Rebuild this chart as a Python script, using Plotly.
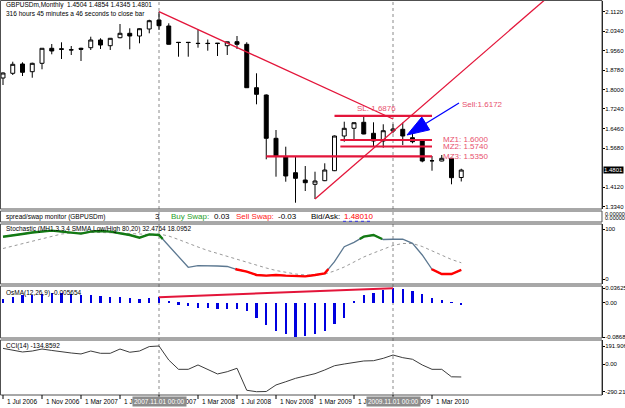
import plotly.graph_objects as go

W, H = 625, 408
RIGHT = 602          # px, right edge of the plotting area (price scale line)
X0_PX, BAR_PX = 3.0, 9.75   # px of first bar, px per bar

# ---------------- data ----------------
months = ["Jul 2006", "Aug 2006", "Sep 2006", "Oct 2006", "Nov 2006", "Dec 2006",
          "Jan 2007", "Feb 2007", "Mar 2007", "Apr 2007", "May 2007", "Jun 2007",
          "Jul 2007", "Aug 2007", "Sep 2007", "Oct 2007", "Nov 2007", "Dec 2007",
          "Jan 2008", "Feb 2008", "Mar 2008", "Apr 2008", "May 2008", "Jun 2008",
          "Jul 2008", "Aug 2008", "Sep 2008", "Oct 2008", "Nov 2008", "Dec 2008",
          "Jan 2009", "Feb 2009", "Mar 2009", "Apr 2009", "May 2009", "Jun 2009",
          "Jul 2009", "Aug 2009", "Sep 2009", "Oct 2009", "Nov 2009", "Dec 2009",
          "Jan 2010", "Feb 2010", "Mar 2010", "Apr 2010", "May 2010", "Jun 2010"]
bar_index = list(range(len(months)))

opens = [1.8474, 1.8662, 1.9033, 1.8726, 1.9061, 1.9660, 1.9640, 1.9592, 1.9660, 1.9684,
         1.9991, 1.9763, 2.0082, 2.0258, 2.0150, 2.0430, 2.0789, 2.0549, 1.9899, 1.9899,
         1.9859, 1.9859, 1.9850, 1.9763, 1.9923, 1.9819, 1.8087, 1.7796, 1.6068, 1.5334,
         1.4695, 1.4404, 1.4232, 1.4376, 1.4775, 1.6160, 1.6467, 1.6707, 1.6268, 1.5960,
         1.6359, 1.6427, 1.6092, 1.5960, 1.5174, 1.5162, 1.5270, 1.4504]
highs = [1.8700, 1.9125, 1.9101, 1.9085, 1.9660, 1.9831, 1.9899, 1.9751, 1.9684, 2.0122,
         2.0059, 2.0070, 2.0629, 2.0458, 2.0458, 2.0800, 2.1120, 2.0657, 1.9905, 1.9910,
         2.0418, 2.0010, 1.9870, 1.9923, 2.0150, 1.9900, 1.8662, 1.7820, 1.6399, 1.5733,
         1.5334, 1.4962, 1.4735, 1.5070, 1.6180, 1.6731, 1.6700, 1.6970, 1.6707, 1.6627,
         1.6627, 1.6691, 1.6399, 1.6028, 1.5362, 1.5402, 1.5280, 1.4854]
lows = [1.8195, 1.8594, 1.8554, 1.8486, 1.8822, 1.9420, 1.9233, 1.9392, 1.9153, 1.9592,
        1.9632, 1.9592, 2.0059, 1.9620, 1.9859, 2.0258, 2.0390, 1.9810, 1.9324, 1.9324,
        1.9684, 1.9564, 1.9352, 1.9392, 1.9632, 1.8087, 1.7425, 1.5230, 1.4536, 1.4336,
        1.3498, 1.3965, 1.3646, 1.4360, 1.4760, 1.5932, 1.5960, 1.6230, 1.5733, 1.5693,
        1.6268, 1.5801, 1.5869, 1.5110, 1.4775, 1.5150, 1.4232, 1.4345]
closes = [1.8674, 1.9021, 1.8702, 1.9061, 1.9660, 1.9552, 1.9620, 1.9600, 1.9620, 1.9991,
          1.9791, 2.0059, 2.0258, 2.0150, 2.0442, 2.0761, 2.0561, 1.9819, 1.9890, 1.9890,
          1.9850, 1.9850, 1.9860, 1.9920, 1.9819, 1.8087, 1.7824, 1.6068, 1.5362, 1.4564,
          1.4472, 1.4296, 1.4364, 1.4803, 1.6160, 1.6467, 1.6691, 1.6240, 1.5960, 1.6371,
          1.6439, 1.6160, 1.5932, 1.5162, 1.5170, 1.5270, 1.4496, 1.4801]

stoch_main = [84.6, 88, 90, 93, 94.7, 96.7, 94.7, 92.7, 90.7, 94.7, 96, 94.7, 91.3, 88,
              82.7, 89.3, 88, 66.7, 44.7, 23.4, 26.7, 26.7, 26, 25, 19, 14.7, 8, 6.7, 8,
              6.7, 5.3, 5.3, 8, 11.3, 34.7, 64.7, 73.3, 84.7, 88, 79, 79.5, 79.5, 71.3, 48,
              19.5, 10, 10, 18.0952]
stoch_signal = [61, 66, 71, 76, 80, 85, 90, 92, 93, 93, 93, 93, 92, 91, 90, 89, 90, 86,
                79, 71, 64, 57, 51, 45, 39, 33, 27, 22, 17, 13, 10, 8, 8, 10, 16, 24, 34,
                44, 52, 60, 67, 71, 71, 65, 56, 47, 39, 32.4764]
stoch_levels = [80, 20]

osma = [0.009, 0.015, 0.018, 0.019, 0.021, 0.025, 0.023, 0.021, 0.019, 0.018, 0.017,
        0.015, 0.013, 0.011, 0.010, 0.012, 0.014, 0.003, -0.005, -0.009, -0.013, -0.014,
        -0.016, -0.017, -0.017, -0.022, -0.040, -0.057, -0.071, -0.080, -0.08687, -0.083,
        -0.080, -0.071, -0.055, -0.040, 0.003, 0.018, 0.025, 0.033, 0.036251, 0.035,
        0.030, 0.021, 0.012, 0.006, 0.001, -0.005654]

cci = [167, 145, 129, 139, 160, 145, 129, 118, 108, 139, 115, 115, 160, 126, 139, 186,
       191.9061, 44, -54, -54, -8, -54, -103, -79, -43, -275, -290.219, -288, -219, -185,
       -149, -124, -100, -61, -16, 2, 20, 34, 37, 62, 97, 69, 52, -8, -54, -54, -133,
       -134.8592]

price_ticks = [2.1120, 2.0340, 1.9560, 1.8780, 1.8000, 1.7240, 1.6460, 1.5680, 1.4120, 1.3340]
last_price = 1.4801

# drawn objects (user lines / levels)
trend_down = {"x": [16, 40], "y": [2.1120, 1.6838]}
trend_up = {"x": [32, 62], "y": [1.3646, 2.3762]}
levels = [  # name, price, first bar, last bar
    ("SL: 1.6876", 1.6960, 34, 44),
    ("MZ1: 1.6000", 1.6000, 34.6, 44),
    ("MZ2: 1.5740", 1.5740, 34.6, 44),
    ("MZ3: 1.5350", 1.5350, 27, 44),
]
sell_label = "Sell:1.6172"
osma_line = {"x": [16, 40], "y": [0.0134, 0.036251]}
marker_bars = [16, 40]
marker_texts = ["2007.11.01 00:00", "2009.11.01 00:00"]
date_tick_bars = list(range(0, 48, 4))
date_tick_labels = ["1 " + months[i] for i in date_tick_bars]

# ---------------- helpers ----------------
def yp(px):
    return 1 - px / H

def xp(px):
    return px / W

P_REF_PX, P_REF, P_SCALE = 11.7, 2.1120, 250.6   # price scale (px per unit)

def price_from_px(py):
    return P_REF - (py - P_REF_PX) / P_SCALE

def bar_from_px(px):
    return (px - X0_PX) / BAR_PX

FONT = "Liberation Sans"
RED = "#E3153A"
LABEL_RED = "#E8506E"

fig = go.Figure()

# --- main candles
fig.add_trace(go.Candlestick(
    x=bar_index, open=opens, high=highs, low=lows, close=closes,
    increasing=dict(line=dict(color="black", width=1), fillcolor="white"),
    decreasing=dict(line=dict(color="black", width=1), fillcolor="black"),
    whiskerwidth=0, hoverinfo="skip", showlegend=False, xaxis="x", yaxis="y"))

for tl in (trend_down, trend_up):
    fig.add_trace(go.Scatter(x=tl["x"], y=tl["y"], mode="lines",
                             line=dict(color=RED, width=1.3), hoverinfo="skip",
                             showlegend=False, xaxis="x", yaxis="y"))
for name, price, b0, b1 in levels:
    fig.add_trace(go.Scatter(x=[b0, b1], y=[price, price], mode="lines",
                             line=dict(color=RED, width=2.2), hoverinfo="skip",
                             showlegend=False, xaxis="x", yaxis="y"))

# --- stochastic
def zone_segments(xs, ys, level, above):
    ox, oy = [], []
    def inside(v):
        return v > level if above else v < level
    for i in range(len(xs) - 1):
        x0, y0, x1, y1 = xs[i], ys[i], xs[i + 1], ys[i + 1]
        a, b = inside(y0), inside(y1)
        if not a and not b:
            continue
        if a and b:
            seg = [(x0, y0), (x1, y1)]
        else:
            t = (level - y0) / (y1 - y0)
            xc = x0 + t * (x1 - x0)
            seg = [(x0, y0), (xc, level)] if a else [(xc, level), (x1, y1)]
        if ox and ox[-1] is not None and ox[-1] == seg[0][0] and oy[-1] == seg[0][1]:
            ox.append(seg[1][0]); oy.append(seg[1][1])
        else:
            if ox:
                ox.append(None); oy.append(None)
            ox += [seg[0][0], seg[1][0]]; oy += [seg[0][1], seg[1][1]]
    return ox, oy

fig.add_trace(go.Scatter(x=bar_index, y=stoch_signal, mode="lines",
                         line=dict(color="#9A9A9A", width=1, dash="dot"),
                         hoverinfo="skip", showlegend=False, xaxis="x", yaxis="y2"))
fig.add_trace(go.Scatter(x=bar_index, y=stoch_main, mode="lines",
                         line=dict(color="#5C7891", width=1.3),
                         hoverinfo="skip", showlegend=False, xaxis="x", yaxis="y2"))
gx, gy = zone_segments(bar_index, stoch_main, stoch_levels[0], True)
fig.add_trace(go.Scatter(x=gx, y=gy, mode="lines", line=dict(color="#137A13", width=2.4),
                         hoverinfo="skip", showlegend=False, xaxis="x", yaxis="y2"))
rx, ry = zone_segments(bar_index, stoch_main, stoch_levels[1], False)
fig.add_trace(go.Scatter(x=rx, y=ry, mode="lines", line=dict(color="#FF0000", width=2.4),
                         hoverinfo="skip", showlegend=False, xaxis="x", yaxis="y2"))

# --- OsMA
fig.add_trace(go.Bar(x=bar_index, y=osma, width=0.22, marker=dict(color="#0000E0", line=dict(width=0)),
                     hoverinfo="skip", showlegend=False, xaxis="x", yaxis="y3"))
fig.add_trace(go.Scatter(x=osma_line["x"], y=osma_line["y"], mode="lines",
                         line=dict(color=RED, width=2), hoverinfo="skip",
                         showlegend=False, xaxis="x", yaxis="y3"))

# --- CCI
fig.add_trace(go.Scatter(x=bar_index, y=cci, mode="lines", line=dict(color="#3C3C3C", width=1),
                         hoverinfo="skip", showlegend=False, xaxis="x", yaxis="y4"))

# ---------------- layout ----------------
x_range = [-X0_PX / BAR_PX, (RIGHT - X0_PX) / BAR_PX]
main_range = [price_from_px(209), price_from_px(1)]
OS_ZERO_PX, OS_SCALE = 302.6, 397.0
os_range = [-(338 - OS_ZERO_PX) / OS_SCALE, (OS_ZERO_PX - 286) / OS_SCALE]
CCI_ZERO_PX, CCI_SCALE = 364.2, 0.0948
cci_range = [-(395 - CCI_ZERO_PX) / CCI_SCALE, (CCI_ZERO_PX - 340) / CCI_SCALE]

tickfont = dict(family=FONT, size=6, color="black")
def yaxis(top, bottom, rng, tv, tt):
    return dict(domain=[yp(bottom), yp(top)], range=rng, side="right", anchor="x",
                showgrid=False, zeroline=False, showline=True, linecolor="black",
                linewidth=1, ticks="outside", ticklen=2, tickcolor="black",
                tickvals=tv, ticktext=tt, tickfont=tickfont, automargin=False,
                ticklabelstandoff=-1, fixedrange=True)

fig.update_layout(
    width=W, height=H, margin=dict(l=0, r=0, t=0, b=0),
    paper_bgcolor="white", plot_bgcolor="white", boxgap=0.42,
    xaxis=dict(domain=[0, xp(RIGHT)], range=x_range, showgrid=False, zeroline=False,
               showticklabels=False, showline=False, ticks="", rangeslider=dict(visible=False),
               anchor="y4", automargin=False),
    yaxis=yaxis(1, 209, main_range, price_ticks, ["%.4f" % v for v in price_ticks]),
    yaxis2=yaxis(224, 284, [-10, 110], [100, 0], ["100", "0"]),
    yaxis3=yaxis(286, 338, os_range, [0.036251, 0, -0.08687], ["0.036251", "0.00", "-0.08687"]),
    yaxis4=yaxis(340, 395, cci_range, [191.9061, 0, -290.219], ["191.9061", "0.00", "-290.219"]),
    showlegend=False, bargap=0,
)

shapes = []
for top, bottom in [(0.5, 209), (211, 222), (224, 284), (286, 338), (340, 395)]:
    shapes.append(dict(type="rect", xref="paper", yref="paper", x0=xp(0.5), x1=xp(RIGHT),
                       y0=yp(bottom), y1=yp(top), line=dict(color="#505050", width=1),
                       fillcolor="rgba(0,0,0,0)", layer="above"))
for b in marker_bars:
    shapes.append(dict(type="line", xref="x", yref="paper", x0=b, x1=b, y0=yp(395), y1=yp(0),
                       line=dict(color="#8A8A8A", width=1, dash="dot"), layer="below"))
for b in date_tick_bars:
    shapes.append(dict(type="line", xref="x", yref="paper", x0=b, x1=b, y0=yp(399), y1=yp(395),
                       line=dict(color="black", width=1)))
# sell arrow: line + filled head, built in pixel space
tail = (459.0, 103.0); tip = (407.0, 135.0)
dx, dy = tail[0] - tip[0], tail[1] - tip[1]
L = (dx * dx + dy * dy) ** 0.5
ux, uy = dx / L, dy / L
nx, ny = -uy, ux
head_len, head_half = 22.0, 7.5
bc = (tip[0] + head_len * ux, tip[1] + head_len * uy)
c1 = (bc[0] + head_half * nx, bc[1] + head_half * ny)
c2 = (bc[0] - head_half * nx, bc[1] - head_half * ny)
fig.add_trace(go.Scatter(x=[bar_from_px(tail[0]), bar_from_px(bc[0])],
                         y=[price_from_px(tail[1]), price_from_px(bc[1])], mode="lines",
                         line=dict(color="#0000FF", width=1.3), hoverinfo="skip",
                         showlegend=False, xaxis="x", yaxis="y"))
path = "M {},{} L {},{} L {},{} Z".format(
    bar_from_px(tip[0]), price_from_px(tip[1]), bar_from_px(c1[0]), price_from_px(c1[1]),
    bar_from_px(c2[0]), price_from_px(c2[1]))
shapes.append(dict(type="path", xref="x", yref="y", path=path, fillcolor="#0000FF",
                   line=dict(color="#0000FF", width=1)))
shapes.append(dict(type="line", xref="paper", yref="paper", x0=xp(343), x1=xp(371),
                   y0=yp(221.3), y1=yp(221.3), line=dict(color="#3030E0", width=1, dash="dot")))
fig.update_layout(shapes=shapes)

ann = []
def text(x, y, s, size=6.5, color="black", xanchor="left", xref="paper", yref="paper",
         bg=None, yanchor="middle"):
    d = dict(x=x, y=y, xref=xref, yref=yref, text=s, showarrow=False, xanchor=xanchor,
             yanchor=yanchor, font=dict(family=FONT, size=size, color=color),
             borderpad=0)
    if bg:
        d["bgcolor"] = bg
    ann.append(d)

text(xp(5), yp(5), "GBPUSDm,Monthly  %.4f %.4f %.4f %.4f" % (opens[-1], highs[-1], lows[-1], closes[-1]))
text(xp(5), yp(13), "316 hours 45 minutes a 46 seconds to close bar")
for name, price, b0, b1 in levels:
    if name.startswith("SL"):
        text(bar_from_px(356), price_from_px(108.5), name, size=8, color=LABEL_RED,
             xref="x", yref="y")
    else:
        text(bar_from_px(441.5), price + 0.0005, name, size=8, color=LABEL_RED, xref="x", yref="y")
text(bar_from_px(461), price_from_px(104), sell_label, size=8, color=LABEL_RED, xref="x", yref="y")
text(bar_from_px(466), price_from_px(174), "310:45:40", size=7)
text(xp(603), last_price, "%.4f" % last_price, size=6, color="white", yref="y", bg="black")
# spread / swap panel
text(xp(5), yp(216.5), "spread/swap monitor (GBPUSDm)")
text(xp(157), yp(216.5), "3", size=8, xanchor="center")
text(xp(170), yp(216.5), "Buy Swap:", size=8, color="#28A028")
text(xp(213), yp(216.5), "0.03", size=8)
text(xp(235), yp(216.5), "Sell Swap:", size=8, color="#FF2020")
text(xp(277), yp(216.5), "-0.03", size=8)
text(xp(310), yp(216.5), "Bid/Ask:", size=8)
text(xp(343), yp(216.5), "1.48010", size=8, color="#FF0000")
text(xp(603.5), yp(213.5), "0.000000", size=5.5)
text(xp(603.5), yp(217.5), "0.000000", size=5.5)
# indicator labels
text(xp(5), yp(229), "Stochastic (MH1,3,3,4 SMMA,Low/High 80,20) %.4f %.4f" % (stoch_signal[-1], stoch_main[-1]))
text(xp(5), yp(293), "OsMA(12,26,9) %.6f" % osma[-1])
text(xp(5), yp(346), "CCI(14) %.4f" % cci[-1])
for b, lab in zip(date_tick_bars, date_tick_labels):
    ann.append(dict(x=b, y=yp(396), xref="x", yref="paper", text=lab, showarrow=False,
                    xanchor="left", yanchor="top", xshift=2,
                    font=dict(family=FONT, size=6.5, color="black")))
for b, lab in zip(marker_bars, marker_texts):
    ann.append(dict(x=b, y=yp(396), xref="x", yref="paper", text=lab, showarrow=False,
                    xanchor="center", yanchor="top", bgcolor="#8C8C8C", borderpad=1,
                    font=dict(family=FONT, size=6.5, color="white")))
fig.update_layout(annotations=ann)

fig.write_html("out.html")
